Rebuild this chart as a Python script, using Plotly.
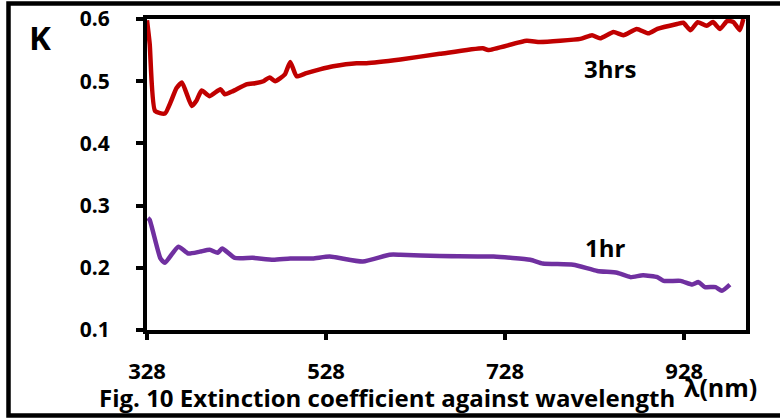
import plotly.graph_objects as go

# 3 hrs series (wavelength nm, extinction coefficient K)
wl_3h = [328, 331, 337, 348, 361, 367, 378, 383, 389, 398, 410, 415, 424, 439, 450, 458, 465,
         471, 482, 488, 495, 506, 521, 536, 562, 573, 611, 655, 703, 709, 752, 767, 812, 825,
         834, 849, 860, 875, 888, 898, 920, 927, 935, 943, 953, 960, 968, 976, 983, 990, 994]
k_3h = [0.598, 0.56, 0.452, 0.448, 0.489, 0.498, 0.460, 0.468, 0.485, 0.476, 0.487, 0.479,
        0.484, 0.495, 0.497, 0.500, 0.506, 0.500, 0.511, 0.531, 0.508, 0.513, 0.519, 0.524,
        0.529, 0.529, 0.535, 0.544, 0.553, 0.550, 0.565, 0.563, 0.568, 0.574, 0.569, 0.579,
        0.574, 0.584, 0.577, 0.584, 0.592, 0.594, 0.582, 0.595, 0.589, 0.595, 0.584, 0.597,
        0.595, 0.582, 0.600]

# 1 hr series
wl_1h = [329, 331, 343, 348, 363, 374, 387, 398, 407, 412, 426, 446, 469, 488, 513, 532, 569,
         599, 611, 655, 715, 756, 770, 804, 831, 853, 868, 882, 898, 905, 924, 937, 944, 951,
         963, 970, 979]
k_1h = [0.280, 0.277, 0.215, 0.208, 0.234, 0.223, 0.226, 0.229, 0.224, 0.231, 0.216, 0.216,
        0.213, 0.215, 0.215, 0.218, 0.210, 0.221, 0.221, 0.219, 0.218, 0.213, 0.207, 0.205,
        0.195, 0.192, 0.185, 0.188, 0.185, 0.179, 0.179, 0.173, 0.177, 0.169, 0.169, 0.163,
        0.173]

x_ticks = [328, 528, 728, 928]
y_ticks = [0.1, 0.2, 0.3, 0.4, 0.5, 0.6]

FONT = "Open Sans"

fig = go.Figure()
fig.add_trace(go.Scatter(x=wl_3h, y=k_3h, mode="lines", name="3hrs",
                         line=dict(color="#C00000", width=4.5, shape="spline", smoothing=0.5)))
fig.add_trace(go.Scatter(x=wl_1h, y=k_1h, mode="lines", name="1hr",
                         line=dict(color="#7030A0", width=4.5, shape="spline", smoothing=0.5)))

fig.update_layout(
    width=780, height=420,
    margin=dict(l=147, r=34, t=19, b=90),
    paper_bgcolor="white", plot_bgcolor="white",
    showlegend=False,
    font=dict(family=FONT, color="black"),
    xaxis=dict(range=[328, 997], tickvals=x_ticks, ticktext=[str(v) for v in x_ticks],
               automargin=False,
               showgrid=False, zeroline=False, showline=True, mirror=True,
               linecolor="black", linewidth=4, ticks="outside", ticklen=6, tickwidth=4,
               tickcolor="black", ticklabelstandoff=13,
               tickfont=dict(family=FONT, size=22, weight="bold", color="black")),
    yaxis=dict(range=[0.1, 0.6], tickvals=y_ticks, ticktext=[f"{v:.1f}" for v in y_ticks],
               automargin=False,
               showgrid=False, zeroline=False, showline=True, mirror=True,
               linecolor="black", linewidth=4, ticks="outside", ticklen=7, tickwidth=4,
               tickcolor="black", ticklabelstandoff=22,
               tickfont=dict(family=FONT, size=21, weight="bold", color="black")),
)

fig.add_shape(type="rect", xref="paper", yref="paper",
              x0=(8.5 - 147) / 599, x1=(790 - 147) / 599,
              y0=(330 - 415.5) / 311, y1=(330 - 3.5) / 311,
              line=dict(color="black", width=4.5), layer="below")

def label(text, x, y, size, xref="paper", yref="paper"):
    fig.add_annotation(text=f"<b>{text}</b>", x=x, y=y, xref=xref, yref=yref,
                       xanchor="center", yanchor="middle", showarrow=False,
                       font=dict(family=FONT, size=size, color="black"))

label("3hrs", 845, 0.521, 24, "x", "y")
label("1hr", 839, 0.233, 24, "x", "y")
label("K", (40 - 147) / 599, (330 - 38) / 311, 33)
label("Fig. 10 Extinction coefficient against wavelength", (386.5 - 147) / 599, (330 - 397) / 311, 24)
label("λ(nm)", (720 - 147) / 599, (330 - 387) / 311, 25)

fig.write_html("out.html")
